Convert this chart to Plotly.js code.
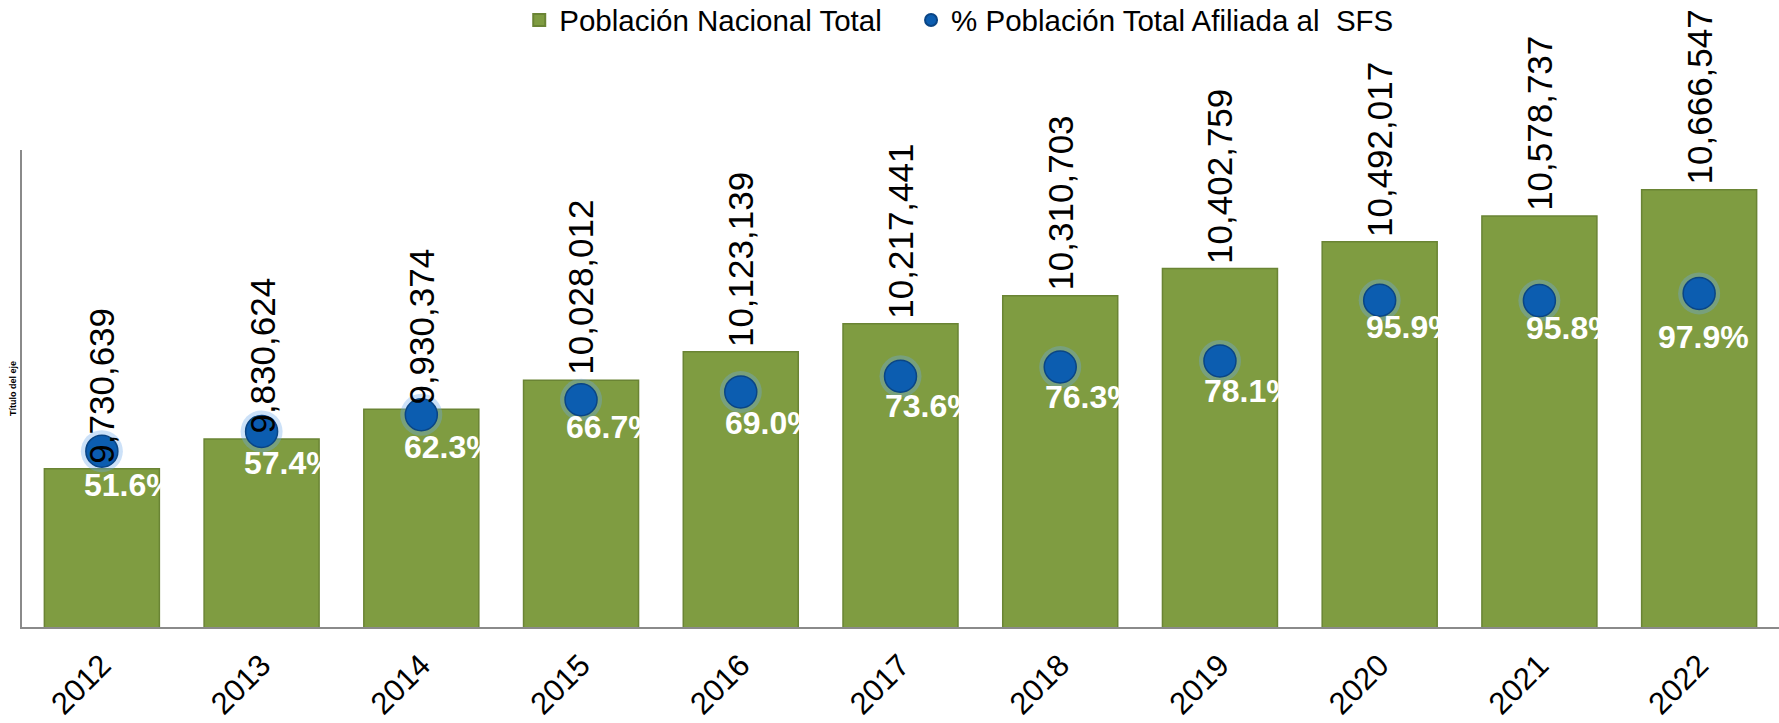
<!DOCTYPE html>
<html>
<head>
<meta charset="utf-8">
<script src="https://cdn.plot.ly/plotly-3.0.1.min.js"></script>
<style>
html,body{margin:0;padding:0;background:#fff;}
#chart{width:1779px;height:723px;}
</style>
</head>
<body>
<div id="chart"></div>
<script>
// ---- data ----
const years = ["2012","2013","2014","2015","2016","2017","2018","2019","2020","2021","2022"];
const poblacion = [9730639, 9830624, 9930374, 10028012, 10123139, 10217441, 10310703, 10402759, 10492017, 10578737, 10666547];
const pctAfiliada = [0.516, 0.574, 0.623, 0.667, 0.690, 0.736, 0.763, 0.781, 0.959, 0.958, 0.979];
const seriesNames = ["Población Nacional Total", "% Población Total Afiliada al  SFS"];

// label placement (style only, pixels relative to the marker)
const pctLabelShift = [[28,-34],[28,-32],[28,-32],[30,-27],[30,-31],[30,-30],[30,-30],[30,-30],[32,-27],[32,-27],[4,-44]];

const FONT = "Liberation Sans, Arial, Helvetica, sans-serif";

const barTrace = {
  type: "bar",
  name: seriesNames[0],
  x: years,
  y: poblacion,
  legend: "legend",
  marker: { color: "#7f9c41", line: { color: "#6a8434", width: 1.5 } },
  hoverinfo: "x+y"
};

const glowTrace = {
  type: "scatter",
  mode: "markers",
  x: years,
  y: pctAfiliada,
  yaxis: "y2",
  showlegend: false,
  hoverinfo: "skip",
  marker: { size: 42, color: "rgba(110,170,235,0.35)", line: { width: 0 } }
};

const dotTrace = {
  type: "scatter",
  mode: "markers",
  name: seriesNames[1],
  x: years,
  y: pctAfiliada,
  yaxis: "y2",
  legend: "legend2",
  marker: { size: 32, color: "#0c5db0", line: { color: "#0a4585", width: 1.5 } }
};

const fmtInt = n => n.toLocaleString("en-US");
const annotations = [];
years.forEach((yr, i) => {
  // category axes: annotations take the category index
  annotations.push({
    x: i, y: poblacion[i], xref: "x", yref: "y",
    text: fmtInt(poblacion[i]),
    textangle: -90,
    showarrow: false,
    xanchor: "center", yanchor: "bottom",
    yshift: 3,
    font: { family: FONT, size: 35, color: "#000" }
  });
  annotations.push({
    x: i, y: pctAfiliada[i], xref: "x", yref: "y2",
    text: (pctAfiliada[i] * 100).toFixed(1) + "%",
    showarrow: false,
    xanchor: "center", yanchor: "middle",
    xshift: pctLabelShift[i][0], yshift: pctLabelShift[i][1],
    font: { family: FONT, size: 32, color: "#ffffff", weight: "bold" }
  });
});

const legendBase = {
  orientation: "h",
  y: 1.272, yanchor: "middle",
  xanchor: "left",
  font: { family: FONT, size: 29.5, color: "#000" },
  itemsizing: "constant",
  bgcolor: "rgba(0,0,0,0)"
};

const layout = {
  width: 1779,
  height: 723,
  margin: { l: 22, r: 0, t: 150, b: 96, autoexpand: false },
  paper_bgcolor: "#ffffff",
  plot_bgcolor: "#ffffff",
  font: { family: FONT, color: "#000" },
  bargap: 0.28,
  showlegend: true,
  legend: Object.assign({}, legendBase, { x: 0.283 }),
  legend2: Object.assign({}, legendBase, { x: 0.506 }),
  xaxis: {
    type: "category",
    range: [-0.5, years.length - 0.5],
    automargin: false,
    showline: true,
    linecolor: "#8a8a8a",
    linewidth: 1.5,
    showgrid: false,
    zeroline: false,
    ticks: "",
    tickangle: -45,
    ticklabelstandoff: 6,
    tickfont: { family: FONT, size: 31, color: "#000" }
  },
  yaxis: {
    range: [9200000, 10800000],
    automargin: false,
    showline: true,
    linecolor: "#8a8a8a",
    linewidth: 1.5,
    showgrid: false,
    zeroline: false,
    showticklabels: false,
    ticks: "",
    title: { text: "Título del eje", standoff: 2, font: { family: FONT, size: 9, color: "#000", weight: "bold" } }
  },
  yaxis2: {
    overlaying: "y",
    side: "right",
    range: [0, 1.4],
    visible: false,
    showgrid: false,
    zeroline: false
  },
  annotations: annotations
};

Plotly.newPlot("chart", [barTrace, glowTrace, dotTrace], layout, { displayModeBar: false, responsive: false });
</script>
</body>
</html>
